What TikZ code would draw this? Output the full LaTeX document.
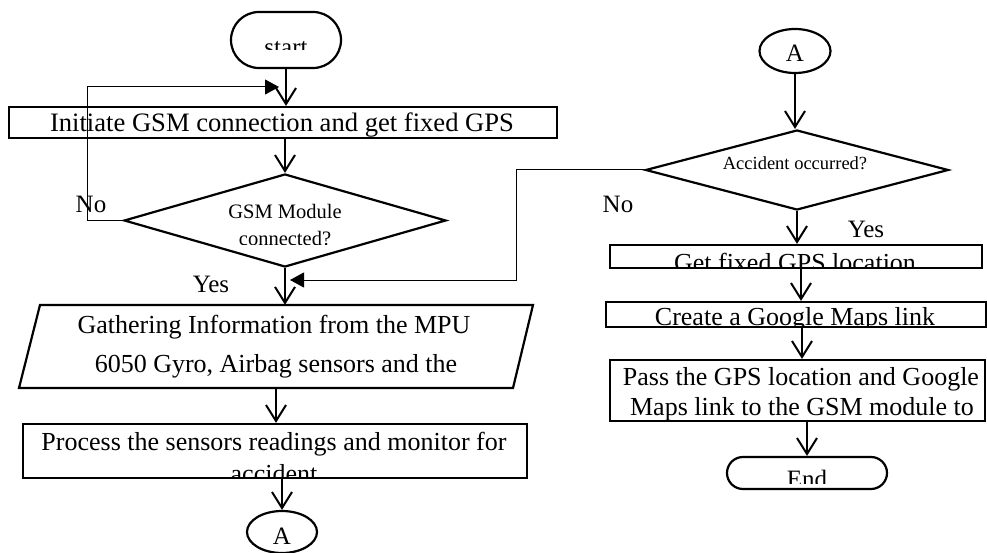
\documentclass[tikz,border=0pt]{standalone}
\usepackage{fontspec}
\setmainfont{Liberation Serif}
\usetikzlibrary{arrows.meta,shapes.geometric}
\begin{document}
\begin{tikzpicture}[x=1pt,y=-1pt,
 shp/.style={draw, line width=2.2pt, inner sep=0pt},
 boxn/.style={shp, rectangle},
 termn/.style={shp, rectangle, rounded corners=#1},
 dia/.style={shp, diamond},
 conn/.style={shp, ellipse},
 arr/.style={line width=2pt, -{Straight Barb[length=16pt,width=20pt]}},
 loopln/.style={line width=1pt, -{Triangle[length=14pt,width=15pt]}},
 tx/.style={anchor=base, inner sep=0pt, font=\fontsize{26}{30}\selectfont},
 txs/.style={anchor=base, inner sep=0pt, font=\fontsize{25}{30}\selectfont},
 txd/.style={anchor=base, inner sep=0pt, font=\fontsize{20.5}{24}\selectfont},
 txa/.style={anchor=base, inner sep=0pt, font=\fontsize{18.5}{22}\selectfont}
]
\useasboundingbox (0,0) rectangle (987,553);
\fill[white] (0,0) rectangle (987,553);

% ---- left column shapes
\node[termn=28pt, minimum width=110pt, minimum height=56pt] (start) at (286,40) {};
\node[boxn, minimum width=548pt, minimum height=31pt] (init) at (283,122.5) {};
\node[dia, minimum width=322pt, minimum height=93pt] (gsm) at (285,220.5) {};
\node[minimum width=493.5pt, minimum height=83pt, inner sep=0pt] (gather) at (276,346.5) {};
\draw[line width=2.2pt] (40,305) -- (533,305) -- (513,388) -- (19,388) -- cycle;
\node[boxn, minimum width=504pt, minimum height=54pt] (proc) at (275,451) {};
\node[conn, minimum width=70pt, minimum height=42pt] (A1) at (282,532) {};

% ---- right column shapes
\node[conn, minimum width=71pt, minimum height=44pt] (A2) at (795,51) {};
\node[dia, minimum width=303pt, minimum height=80pt] (acc) at (797,170) {};
\node[boxn, minimum width=372pt, minimum height=23pt] (getgps) at (796,256.5) {};
\node[boxn, minimum width=380pt, minimum height=25pt] (create) at (796,314.5) {};
\node[boxn, minimum width=375pt, minimum height=61pt] (pass) at (797.5,390.5) {};
\node[termn=16pt, minimum width=160pt, minimum height=32pt] (endn) at (807,473) {};

% ---- texts
\begin{scope}
 \clip (231,12) rectangle (341,50);
 \node[txs] (tstart) at (286,56) {start};
\end{scope}
\node[tx, font=\fontsize{26.6}{30}\selectfont] (tinit) at (282,132) {Initiate GSM connection and get fixed GPS};
\node[txd] (tgsm1) at (285,219) {GSM Module};
\begin{scope}
 \clip (150,225) rectangle (420,245);
 \node[txd] (tgsm2) at (285,246) {connected?};
\end{scope}
\node[tx] (tg1) at (274,333) {Gathering Information from the MPU};
\node[tx] (tg2) at (276,372) {6050 Gyro, Airbag sensors and the};
\node[tx] (tp1) at (274,450) {Process the sensors readings and monitor for};
\begin{scope}
 \clip (30,455) rectangle (520,478);
 \node[tx] (tp2) at (274,482) {accident};
\end{scope}
\node[txs] (tA1) at (282,544) {A};
\node[txs] (tA2) at (795,62) {A};
\node[txa] (tacc) at (795,170) {Accident occurred?};
\begin{scope}
 \clip (612,246) rectangle (980,267);
 \node[tx] (tget) at (795,272) {Get fixed GPS location};
\end{scope}
\begin{scope}
 \clip (608,303) rectangle (984,326);
 \node[tx] (tcreate) at (795,325) {Create a Google Maps link};
\end{scope}
\node[tx] (tpass1) at (801,385) {Pass the GPS location and Google};
\node[tx] (tpass2) at (802,415) {Maps link to the GSM module to};
\begin{scope}
 \clip (735,458) rectangle (880,483);
 \node[txs] (tend) at (807,487) {End};
\end{scope}

% ---- labels
\node[txs] (no1) at (91,213) {No};
\node[txs] (yes1) at (211,292) {Yes};
\node[txs] (no2) at (618,213) {No};
\node[txs] (yes2) at (866,237) {Yes};

% ---- connectors
\draw[arr] (start.south) -- (start.south |- init.north);
\draw[arr] (gsm.north |- init.south) -- (gsm.north);
\draw[arr] (gsm.south) -- (gsm.south |- gather.north);
\draw[arr] (gather.south) -- (gather.south |- proc.north);
\draw[arr] (A1.north |- proc.south) -- (A1.north);

\draw[arr] (A2.south) -- (A2.south |- acc.north);
\draw[arr] (acc.south) -- (acc.south |- getgps.north);
\draw[arr] ([xshift=5pt]getgps.south) -- ([xshift=5pt]getgps.south |- create.north);
\draw[arr] ([xshift=6pt]create.south) -- ([xshift=6pt]create.south |- pass.north);
\draw[arr] (endn.north |- pass.south) -- (endn.north);

\coordinate (l1) at (87,87);
\coordinate (t1) at (279,87);
\draw[loopln] (gsm.west) -| (l1) -- (t1);
\coordinate (l2) at (516,280);
\coordinate (t2) at (290,280);
\draw[loopln] (acc.west) -| (l2) -- (t2);
\end{tikzpicture}
\end{document}
